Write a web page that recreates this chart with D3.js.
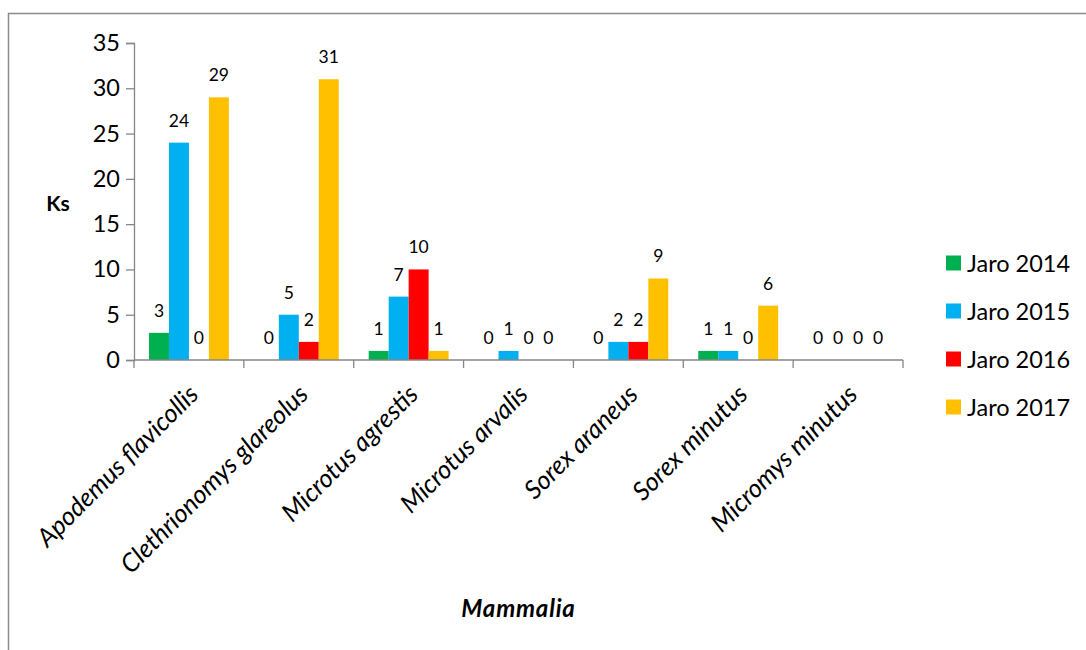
<!DOCTYPE html>
<html>
<head>
<meta charset="utf-8">
<script src="https://cdn.jsdelivr.net/npm/d3@7"></script>
<style>
  html, body { margin: 0; padding: 0; background: #fff; }
  svg { display: block; font-family: Lato, "Open Sans", sans-serif; }
</style>
</head>
<body>
<svg id="chart" width="1086" height="650"></svg>
<script>
// Small mammal captures per species, spring seasons 2014–2017
const species = [
  "Apodemus flavicollis",
  "Clethrionomys glareolus",
  "Microtus agrestis",
  "Microtus arvalis",
  "Sorex araneus",
  "Sorex minutus",
  "Micromys minutus"
];
const seriesNames = ["Jaro 2014", "Jaro 2015", "Jaro 2016", "Jaro 2017"];
const jaro2014 = [3, 0, 1, 0, 0, 1, 0];
const jaro2015 = [24, 5, 7, 1, 2, 1, 0];
const jaro2016 = [0, 2, 10, 0, 2, 0, 0];
const jaro2017 = [29, 31, 1, 0, 9, 6, 0];
const yTicks = [0, 5, 10, 15, 20, 25, 30, 35];
const colors = ["#00B050", "#00B0F0", "#FF0000", "#FFC000"];

const seriesValues = [jaro2014, jaro2015, jaro2016, jaro2017];
const rows = species.map((s, i) => ({
  species: s,
  values: seriesNames.map((name, k) => ({ name, value: seriesValues[k][i] }))
}));

const svg = d3.select("#chart");
const plot = { left: 134, right: 903, top: 43, bottom: 360 };
const axisColor = "#868686";

// outer frame
svg.append("rect")
  .attr("x", 8.5).attr("y", 13.5)
  .attr("width", 1200).attr("height", 800)
  .attr("fill", "none").attr("stroke", "#8c8c8c").attr("stroke-width", 1.5);

const x0 = d3.scaleBand().domain(species).range([plot.left, plot.right]).padding(0);
const x1 = d3.scaleBand().domain(seriesNames).range([0, x0.bandwidth()])
  .paddingInner(0).paddingOuter(0.75);
const y = d3.scaleLinear().domain([0, 35]).range([plot.bottom, plot.top]);
const color = d3.scaleOrdinal().domain(seriesNames).range(colors);

// y axis
const yAxis = svg.append("g")
  .attr("transform", `translate(${plot.left},0)`)
  .call(d3.axisLeft(y).tickValues(yTicks).tickSize(8).tickPadding(6));
yAxis.selectAll("path, line").attr("stroke", axisColor).attr("stroke-width", 1.3);
yAxis.selectAll("text").attr("font-size", 23.5).attr("fill", "#000")
  .attr("font-family", "Lato, sans-serif");

// bars
const groups = svg.append("g").selectAll("g")
  .data(rows).join("g")
  .attr("transform", d => `translate(${x0(d.species)},0)`);

groups.selectAll("rect")
  .data(d => d.values).join("rect")
  .attr("x", d => x1(d.name))
  .attr("y", d => y(d.value))
  .attr("width", x1.bandwidth())
  .attr("height", d => y(0) - y(d.value))
  .attr("fill", d => color(d.name));

// value labels
groups.selectAll("text")
  .data(d => d.values).join("text")
  .attr("x", d => x1(d.name) + x1.bandwidth() / 2)
  .attr("y", d => y(d.value) - 16)
  .attr("text-anchor", "middle")
  .attr("font-size", 17.5)
  .attr("fill", "#000")
  .text(d => d.value);

// x axis line with boundary ticks
const xAxisG = svg.append("g");
xAxisG.append("line")
  .attr("x1", plot.left).attr("x2", plot.right)
  .attr("y1", plot.bottom).attr("y2", plot.bottom)
  .attr("stroke", axisColor).attr("stroke-width", 1.3);
const bounds = species.map(s => x0(s)).concat([x0(species[species.length - 1]) + x0.bandwidth()]);
xAxisG.selectAll("line.tick")
  .data(bounds).join("line")
  .attr("class", "tick")
  .attr("x1", d => d).attr("x2", d => d)
  .attr("y1", plot.bottom).attr("y2", plot.bottom + 8)
  .attr("stroke", axisColor).attr("stroke-width", 1.3);

// rotated category labels
xAxisG.selectAll("text")
  .data(species).join("text")
  .attr("transform", d => `translate(${x0(d) + x0.bandwidth() / 2 + 11},396) rotate(-45)`)
  .attr("text-anchor", "end")
  .attr("font-size", 25.5)
  .attr("font-style", "italic")
  .attr("fill", "#000")
  .text(d => d);

// axis titles
svg.append("text")
  .attr("x", 58).attr("y", 211)
  .attr("text-anchor", "middle")
  .attr("font-size", 21).attr("font-weight", "bold")
  .text("Ks");
svg.append("text")
  .attr("x", (plot.left + plot.right) / 2).attr("y", 617)
  .attr("text-anchor", "middle")
  .attr("font-size", 24).attr("font-weight", "bold").attr("font-style", "italic")
  .attr("letter-spacing", 0.8)
  .text("Mammalia");

// legend
const legend = svg.append("g").selectAll("g")
  .data(seriesNames).join("g")
  .attr("transform", (d, i) => `translate(946,${263 + i * 48})`);
legend.append("rect")
  .attr("x", 0).attr("y", -7.5)
  .attr("width", 15).attr("height", 15)
  .attr("fill", d => color(d));
legend.append("text")
  .attr("x", 21).attr("y", 8.5)
  .attr("font-size", 23.5)
  .attr("fill", "#000")
  .text(d => d);
</script>
</body>
</html>
